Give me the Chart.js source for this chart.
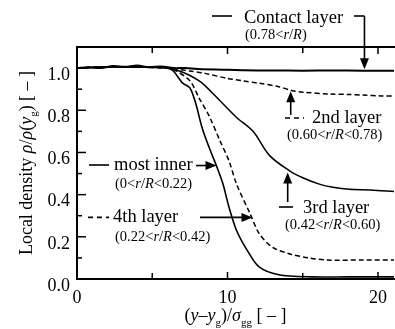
<!DOCTYPE html>
<html>
<head>
<meta charset="utf-8">
<script src="https://cdn.jsdelivr.net/npm/chart.js@4.4.0/dist/chart.umd.min.js"></script>
<style>
  html, body { margin: 0; padding: 0; background: #fff; }
  #wrap { width: 395px; height: 329px; }
</style>
</head>
<body>
<div id="wrap"><canvas id="myChart" width="395" height="329"></canvas></div>
<script>
// values, x = (y - yg)/sigma_gg, y = local density ratio
const contactX = [0, 0.8, 1.6, 2.4, 3.2, 4.0, 4.8, 5.6, 6.4, 7.2, 8, 10, 12, 14, 16, 18, 20, 21.06];
const contactY = [1.0, 1.004, 1.0, 1.01, 1.006, 1.012, 1.004, 1.008, 1.0, 1.0, 0.996, 0.992, 0.989, 0.988, 0.988, 0.988, 0.987, 0.987];

const secondX = [0, 1.5, 3, 4.5, 6, 6.6, 7.5, 8.5, 10, 11, 12.1, 13.4, 14.3, 15, 16.8, 18, 19, 20.2, 21.06];
const secondY = [1.0, 1.006, 1.004, 1.006, 1.0, 0.995, 0.986, 0.975, 0.951, 0.94, 0.928, 0.912, 0.893, 0.886, 0.877, 0.875, 0.872, 0.868, 0.867];

const thirdX = [0, 2, 4, 6, 6.8, 7.5, 8.3, 9.5, 10.6, 11.7, 12.8, 14.1, 15, 16.1, 17, 18.1, 19.5, 21.06];
const thirdY = [1.0, 1.006, 1.004, 1.0, 0.986, 0.965, 0.93, 0.845, 0.766, 0.70, 0.585, 0.514, 0.48, 0.45, 0.435, 0.425, 0.422, 0.415];

const fourthX = [0, 2, 4, 6, 6.6, 7.5, 8.1, 8.8, 9.5, 10.1, 10.6, 11.5, 12.1, 13, 14.1, 15.4, 16.6, 18.9, 21.06];
const fourthY = [1.0, 1.005, 1.004, 1.0, 0.986, 0.94, 0.86, 0.77, 0.655, 0.56, 0.45, 0.31, 0.216, 0.15, 0.12, 0.10, 0.09, 0.09, 0.09];

const innerX = [0, 2, 4, 6, 6.4, 7.0, 7.5, 7.9, 8.3, 8.8, 9.3, 9.7, 10.1, 10.6, 11.3, 12.1, 13.4, 15.6, 18, 21.06];
const innerY = [1.0, 1.005, 1.004, 1.0, 0.986, 0.93, 0.906, 0.83, 0.72, 0.62, 0.53, 0.45, 0.34, 0.23, 0.137, 0.057, 0.02, 0.01, 0.01, 0.01];

const xTickLabels = [0, 10, 20];
const xTickMarks = [0, 5, 10, 15, 20];
const yTickLabels = [0, 0.2, 0.4, 0.6, 0.8, 1.0];
const yTickMarks = [0, 0.1, 0.2, 0.3, 0.4, 0.5, 0.6, 0.7, 0.8, 0.9, 1.0];

const SERIF = '"Liberation Serif", "DejaVu Serif", serif';

function toPoints(xs, ys) {
  return xs.map(function (x, i) { return {x: x, y: ys[i]}; });
}

// text made of pieces: {t, i: italic, s: subscript}
function drawRich(ctx, parts, x, y, size, align) {
  const fontOf = function (p) {
    const sz = p.s ? Math.round(size * 0.62) : size;
    return (p.i ? 'italic ' : '') + sz + 'px ' + SERIF;
  };
  let total = 0;
  for (let p of parts) {
    ctx.font = fontOf(p);
    total += ctx.measureText(p.t).width;
  }
  let cx = align === 'center' ? x - total / 2 : x;
  ctx.textAlign = 'left';
  ctx.textBaseline = 'alphabetic';
  for (let p of parts) {
    ctx.font = fontOf(p);
    ctx.fillText(p.t, cx, p.s ? y + size * 0.25 : y);
    cx += ctx.measureText(p.t).width;
  }
}

function arrow(ctx, x1, y1, x2, y2) {
  const ang = Math.atan2(y2 - y1, x2 - x1);
  const len = 11, half = 4.5;
  ctx.beginPath();
  ctx.moveTo(x1, y1);
  ctx.lineTo(x2 - Math.cos(ang) * len * 0.8, y2 - Math.sin(ang) * len * 0.8);
  ctx.stroke();
  ctx.beginPath();
  ctx.moveTo(x2, y2);
  ctx.lineTo(x2 - Math.cos(ang) * len - Math.sin(ang) * half, y2 - Math.sin(ang) * len + Math.cos(ang) * half);
  ctx.lineTo(x2 - Math.cos(ang) * len + Math.sin(ang) * half, y2 - Math.sin(ang) * len - Math.cos(ang) * half);
  ctx.closePath();
  ctx.fill();
}

function legendLine(ctx, x1, x2, y, dashed) {
  ctx.save();
  ctx.lineWidth = 1.6;
  ctx.setLineDash(dashed ? [5, 4] : []);
  ctx.beginPath();
  ctx.moveTo(x1, y);
  ctx.lineTo(x2, y);
  ctx.stroke();
  ctx.restore();
}

const framePlugin = {
  id: 'frame',
  afterDraw: function (chart) {
    const ctx = chart.ctx;
    const a = chart.chartArea;
    const xs = chart.scales.x;
    const ys = chart.scales.y;
    ctx.save();
    ctx.strokeStyle = '#000';
    ctx.fillStyle = '#000';
    ctx.lineWidth = 2;
    ctx.beginPath();
    ctx.moveTo(a.right + 2, a.top);
    ctx.lineTo(a.left, a.top);
    ctx.lineTo(a.left, a.bottom);
    ctx.lineTo(a.right + 2, a.bottom);
    ctx.stroke();

    ctx.lineWidth = 1.5;
    for (let v of yTickMarks) {
      const py = ys.getPixelForValue(v);
      const major = Math.round(v * 10) % 2 === 0;
      ctx.beginPath();
      ctx.moveTo(a.left, py);
      ctx.lineTo(a.left + (major ? 9 : 5), py);
      ctx.stroke();
    }
    for (let v of xTickMarks) {
      const px = xs.getPixelForValue(v);
      const len = v % 10 === 0 ? 7 : 6;
      ctx.beginPath();
      ctx.moveTo(px, a.bottom);
      ctx.lineTo(px, a.bottom - len);
      ctx.moveTo(px, a.top);
      ctx.lineTo(px, a.top + len);
      ctx.stroke();
    }

    // axis titles
    drawRich(ctx, [
      {t: '(', i: false}, {t: 'y', i: true}, {t: '\u2013', i: false}, {t: 'y', i: true},
      {t: 'g', s: true}, {t: ')/', i: false}, {t: '\u03c3', i: true}, {t: 'gg', s: true},
      {t: ' [ \u2013 ]', i: false}
    ], (a.left + a.right) / 2, 321, 18, 'center');

    ctx.save();
    ctx.translate(32, (a.top + a.bottom) / 2);
    ctx.rotate(-Math.PI / 2);
    drawRich(ctx, [
      {t: 'Local density '}, {t: '\u03c1', i: true}, {t: '/'}, {t: '\u03c1', i: true},
      {t: '('}, {t: 'y', i: true}, {t: 'g', s: true}, {t: ') [ \u2013 ]'}
    ], 0, 0, 18, 'center');
    ctx.restore();

    // annotations
    ctx.lineWidth = 1.6;
    const LBL = 18.5, SUB = 14.5;
    const range = function (lo, hi) {
      return [{t: '(' + lo + '<'}, {t: 'r', i: true}, {t: '/'}, {t: 'R', i: true}, {t: hi ? '<' + hi + ')' : ')'}];
    };

    // contact layer
    const cx = xs.getPixelForValue(19.1), cy = ys.getPixelForValue(0.995);
    legendLine(ctx, 212, 232, 16, false);
    drawRich(ctx, [{t: 'Contact layer'}], 244, 23, LBL, 'left');
    drawRich(ctx, range('0.78', null), 245, 39, SUB, 'left');
    ctx.beginPath();
    ctx.moveTo(354, 16);
    ctx.lineTo(cx, 16);
    ctx.stroke();
    arrow(ctx, cx, 16, cx, cy);

    // 2nd layer
    const sx = xs.getPixelForValue(14.2), sy = ys.getPixelForValue(0.89);
    arrow(ctx, sx, 115, sx, sy);
    legendLine(ctx, 285, 304, 118, true);
    drawRich(ctx, [{t: '2nd layer'}], 312, 123, LBL, 'left');
    drawRich(ctx, range('0.60', '0.78'), 287, 139, SUB, 'left');

    // 3rd layer
    const tx = xs.getPixelForValue(14.0), ty = ys.getPixelForValue(0.505);
    arrow(ctx, tx, 202, tx, ty);
    legendLine(ctx, 279, 293, 207, false);
    drawRich(ctx, [{t: '3rd layer'}], 303, 213, LBL, 'left');
    drawRich(ctx, range('0.42', '0.60'), 285, 229, SUB, 'left');

    // most inner
    const ix = xs.getPixelForValue(9.27), iy = ys.getPixelForValue(0.538);
    legendLine(ctx, 89, 109, 165, false);
    drawRich(ctx, [{t: 'most inner'}], 114, 170, LBL, 'left');
    arrow(ctx, 196, iy, ix, iy);
    drawRich(ctx, range('0', '0.22'), 115, 188, SUB, 'left');

    // 4th layer
    const fx = xs.getPixelForValue(11.66), fy = ys.getPixelForValue(0.292);
    legendLine(ctx, 88, 109, fy, true);
    drawRich(ctx, [{t: '4th layer'}], 113, 222, LBL, 'left');
    arrow(ctx, 200, fy, fx, fy);
    drawRich(ctx, range('0.22', '0.42'), 115, 241, SUB, 'left');

    ctx.restore();
  }
};

const app = {
  initChart: function () {
    const thisApp = this;

    thisApp.ctx = document.getElementById('myChart').getContext('2d');
    const line = function (xs, ys, dashed, width) {
      return {
        data: toPoints(xs, ys),
        borderColor: '#000',
        borderWidth: width,
        borderDash: dashed ? [5, 3] : [],
        pointRadius: 0,
        tension: 0.3,
        fill: false,
      };
    };
    thisApp.chart = new Chart(thisApp.ctx, {
      type: 'line',
      data: {
        datasets: [
          line(contactX, contactY, false, 2),
          line(secondX, secondY, true, 1.5),
          line(thirdX, thirdY, false, 1.5),
          line(fourthX, fourthY, true, 1.5),
          line(innerX, innerY, false, 1.6),
        ]
      },
      options: {
        responsive: false,
        animation: false,
        layout: {padding: {left: 0, top: 47, right: 0, bottom: 0}},
        plugins: {legend: {display: false}, tooltip: {enabled: false}},
        scales: {
          x: {
            type: 'linear',
            min: 0,
            max: 21.06,
            grid: {display: false, drawTicks: false},
            border: {display: false},
            afterBuildTicks: function (scale) {
              scale.ticks = xTickLabels.map(function (v) { return {value: v}; });
            },
            afterFit: function (scale) { scale.height = 50; },
            ticks: {
              color: '#000',
              font: {family: SERIF, size: 18},
              padding: 8,
              maxRotation: 0,
              callback: function (v) { return String(v); },
            },
          },
          y: {
            min: 0,
            max: 1.1,
            grid: {display: false, drawTicks: false},
            border: {display: false},
            afterBuildTicks: function (scale) {
              scale.ticks = yTickLabels.map(function (v) { return {value: v}; });
            },
            afterFit: function (scale) { scale.width = 77; },
            ticks: {
              color: '#000',
              font: {family: SERIF, size: 18},
              padding: 7,
              labelOffset: 7,
              callback: function (v) { return Number(v).toFixed(1); },
            },
          },
        },
      },
      plugins: [framePlugin],
    });
  },
  init: function () {
    const thisApp = this;

    thisApp.initChart();
  },
};

app.init();
</script>
</body>
</html>
